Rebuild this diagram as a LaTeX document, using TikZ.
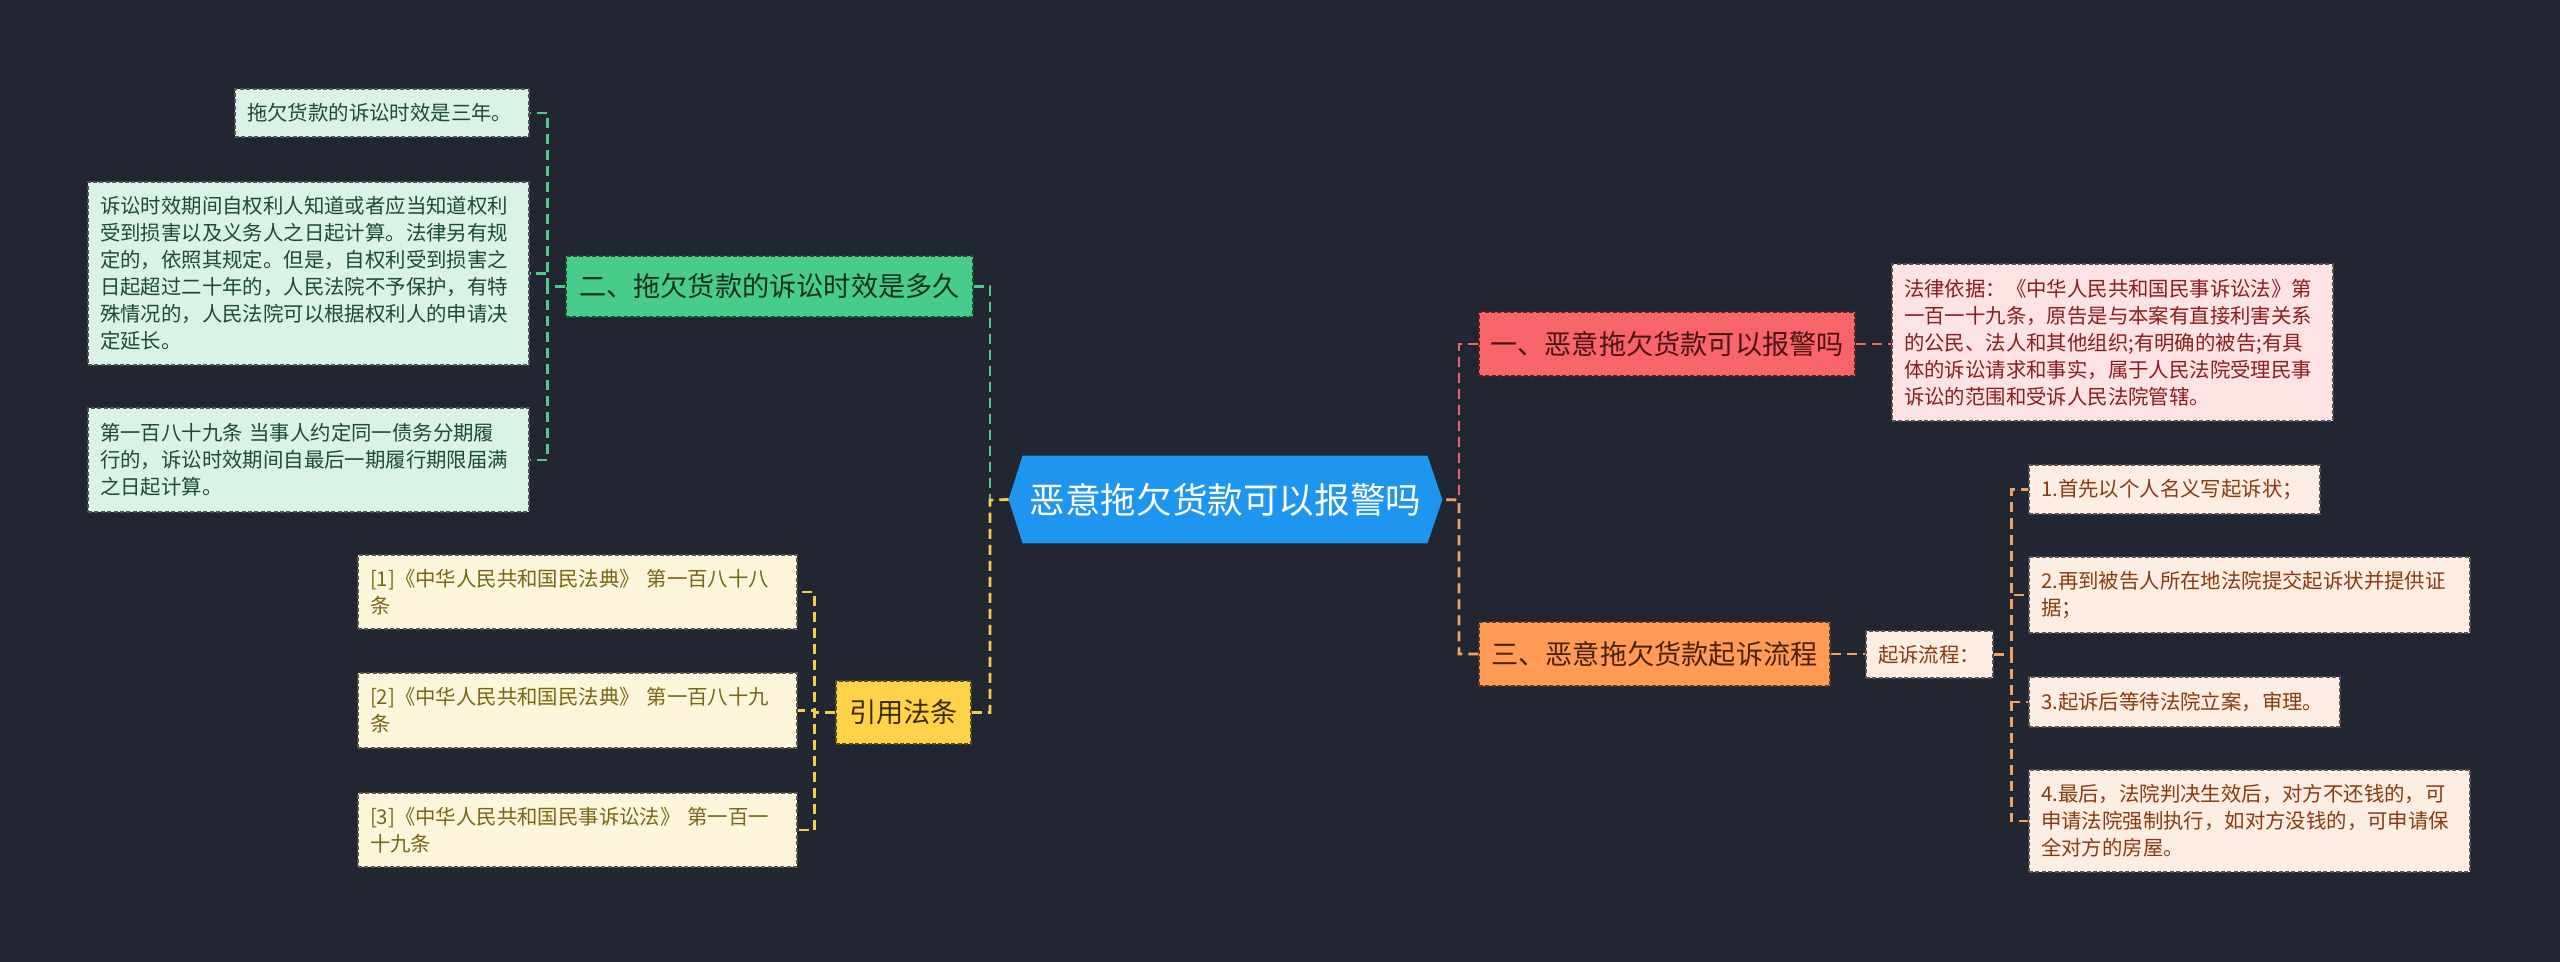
\documentclass[tikz,border=0pt]{standalone}
\usepackage{fontspec}
\setmainfont{Noto Sans CJK SC}
\usetikzlibrary{backgrounds}
\definecolor{bg}{HTML}{222632}
\definecolor{rootfill}{HTML}{1E96EF}
% green
\definecolor{gfill}{HTML}{48CC8A}
\definecolor{gtext}{HTML}{17301F}
\definecolor{glfill}{HTML}{DAF3E6}
\definecolor{gltext}{HTML}{1F4A33}
\definecolor{gline}{HTML}{4BCB8B}
% yellow
\definecolor{yfill}{HTML}{FFD24A}
\definecolor{ytext}{HTML}{3A2E00}
\definecolor{ylfill}{HTML}{FDF6DA}
\definecolor{yltext}{HTML}{7A6515}
\definecolor{yline}{HTML}{F2CE4A}
% red
\definecolor{rfill}{HTML}{F7646A}
\definecolor{rtext}{HTML}{4A1212}
\definecolor{rlfill}{HTML}{FDE3E3}
\definecolor{rltext}{HTML}{8C1D1D}
\definecolor{rline}{HTML}{EE6464}
% orange
\definecolor{ofill}{HTML}{FF9B55}
\definecolor{otext}{HTML}{4A2208}
\definecolor{olfill}{HTML}{FDEDE2}
\definecolor{oltext}{HTML}{8A3A10}
\definecolor{oline}{HTML}{F3A062}
\tikzset{
  box/.style={rectangle, line width=0.75pt, dash pattern=on 2pt off 1.2pt},
  leafbox/.style={box, font=\fontsize{10.2pt}{13.5pt}\selectfont, align=left, inner xsep=6pt, inner ysep=0pt},
  brbox/.style={box, font=\fontsize{13.6pt}{16pt}\selectfont, inner sep=0pt},
  gleaf/.style={leafbox, fill=glfill, draw=glfill!35!black, text=gltext},
  yleaf/.style={leafbox, fill=ylfill, draw=ylfill!35!black, text=yltext},
  rleafbox/.style={leafbox, fill=rlfill, draw=rlfill!35!black, text=rltext},
  oleaf/.style={leafbox, fill=olfill, draw=olfill!35!black, text=oltext},
  gbr/.style={brbox, fill=gfill, draw=gfill!35!black, text=gtext},
  ybr/.style={brbox, fill=yfill, draw=yfill!35!black, text=ytext},
  rbr/.style={brbox, fill=rfill, draw=rfill!35!black, text=rtext},
  obr/.style={brbox, fill=ofill, draw=ofill!35!black, text=otext},
  conn/.style={line width=1.4pt, dash pattern=on 5pt off 3pt},
  cg/.style={conn, draw=gline},
  cy/.style={conn, draw=yline},
  cr/.style={conn, draw=rline},
  co/.style={conn, draw=oline},
}
\begin{document}
\begin{tikzpicture}[x=0.5pt,y=-0.5pt]
\begin{scope}[on background layer]
\fill[bg] (0,0) rectangle (2560,962);
\end{scope}
\useasboundingbox (0,0) rectangle (2560,962);

% root
\node[minimum width=216.5pt, minimum height=43.5pt, inner sep=0pt, text=white,
      font=\fontsize{17.8pt}{20pt}\selectfont] (root) at (1225.5,499.5) {恶意拖欠货款可以报警吗};
\begin{scope}[on background layer]
\fill[rootfill] (root.west) -- ([xshift=7pt]root.north west) -- ([xshift=-7.5pt]root.north east)
  -- (root.east) -- ([xshift=-7.5pt]root.south east) -- ([xshift=7pt]root.south west) -- cycle;
\end{scope}
\coordinate (jl) at (990,500);
\coordinate (jr) at (1459,500);

% green branch
\node[gbr, minimum width=203.5pt, minimum height=30.5pt] (gnode) at (769.5,286.5) {二、拖欠货款的诉讼时效是多久};
\node[gleaf, text width=135pt, minimum height=24pt] (g1) at (382,113) {拖欠货款的诉讼时效是三年。};
\node[gleaf, text width=208.5pt, minimum height=91.5pt] (g2) at (308.5,273.5) {诉讼时效期间自权利人知道或者应当知道权利\\受到损害以及义务人之日起计算。法律另有规\\定的，依照其规定。但是，自权利受到损害之\\日起超过二十年的，人民法院不予保护，有特\\殊情况的，人民法院可以根据权利人的申请决\\定延长。};
\node[gleaf, text width=208.5pt, minimum height=52pt] (g3) at (308.5,460) {第一百八十九条 当事人约定同一债务分期履\\行的，诉讼时效期间自最后一期履行期限届满\\之日起计算。};

% yellow branch
\node[ybr, minimum width=67.5pt, minimum height=31.5pt] (ynode) at (903.5,712.5) {引用法条};
\node[yleaf, text width=207.5pt, minimum height=37pt] (y1) at (577.5,592) {[1]《中华人民共和国民法典》 第一百八十八\\条};
\node[yleaf, text width=207.5pt, minimum height=37.5pt] (y2) at (577.5,710.5) {[2]《中华人民共和国民法典》 第一百八十九\\条};
\node[yleaf, text width=207.5pt, minimum height=37pt] (y3) at (577.5,830) {[3]《中华人民共和国民事诉讼法》 第一百一\\十九条};

% red branch
\node[rbr, minimum width=188pt, minimum height=32pt] (rnode) at (1667,344) {一、恶意拖欠货款可以报警吗};
\node[rleafbox, text width=208.5pt, minimum height=78.5pt] (rl) at (2112.5,342.5) {法律依据：《中华人民共和国民事诉讼法》第\\一百一十九条，原告是与本案有直接利害关系\\的公民、法人和其他组织;有明确的被告;有具\\体的诉讼请求和事实，属于人民法院受理民事\\诉讼的范围和受诉人民法院管辖。};

% orange branch
\node[obr, minimum width=175.5pt, minimum height=32pt] (onode) at (1654.5,654) {三、恶意拖欠货款起诉流程};
\node[oleaf, text width=51.5pt, minimum height=23.5pt] (qs) at (1929.5,654.5) {起诉流程：};
\node[oleaf, text width=133.5pt, minimum height=24.5pt] (o1) at (2174.5,489.5) {1.首先以个人名义写起诉状；};
\node[oleaf, text width=208.5pt, minimum height=38pt] (o2) at (2249.5,595) {2.再到被告人所在地法院提交起诉状并提供证\\据；};
\node[oleaf, text width=143.5pt, minimum height=25pt] (o3) at (2184.5,702) {3.起诉后等待法院立案，审理。};
\node[oleaf, text width=208.5pt, minimum height=51pt] (o4) at (2249.5,821) {4.最后，法院判决生效后，对方不还钱的，可\\申请法院强制执行，如对方没钱的，可申请保\\全对方的房屋。};

% connectors: left
\draw[cg] (gnode.east) -| (jl);
\draw[cy] (ynode.east) -| (jl) -- (root.west);
\draw[cg] (gnode.west) -- ++(-18,0) |- (g1.east);
\draw[cg] (gnode.west) -- ++(-18,0) |- (g2.east);
\draw[cg] (gnode.west) -- ++(-18,0) |- (g3.east);
\draw[cy] (ynode.west) -- ++(-21,0) |- (y1.east);
\draw[cy] (ynode.west) -- ++(-21,0) |- (y2.east);
\draw[cy] (ynode.west) -- ++(-21,0) |- (y3.east);
% connectors: right
\draw[cr] (rnode.west) -| (jr);
\draw[co] (onode.west) -| (jr) -- (root.east);
\draw[cr] (rnode.east) -- (rnode.east -| rl.west);
\draw[co] (onode.east) -- (onode.east -| qs.west);
\draw[co] (qs.east) -- ++(18,0) |- (o1.west);
\draw[co] (qs.east) -- ++(18,0) |- (o2.west);
\draw[co] (qs.east) -- ++(18,0) |- (o3.west);
\draw[co] (qs.east) -- ++(18,0) |- (o4.west);
\end{tikzpicture}
\end{document}
